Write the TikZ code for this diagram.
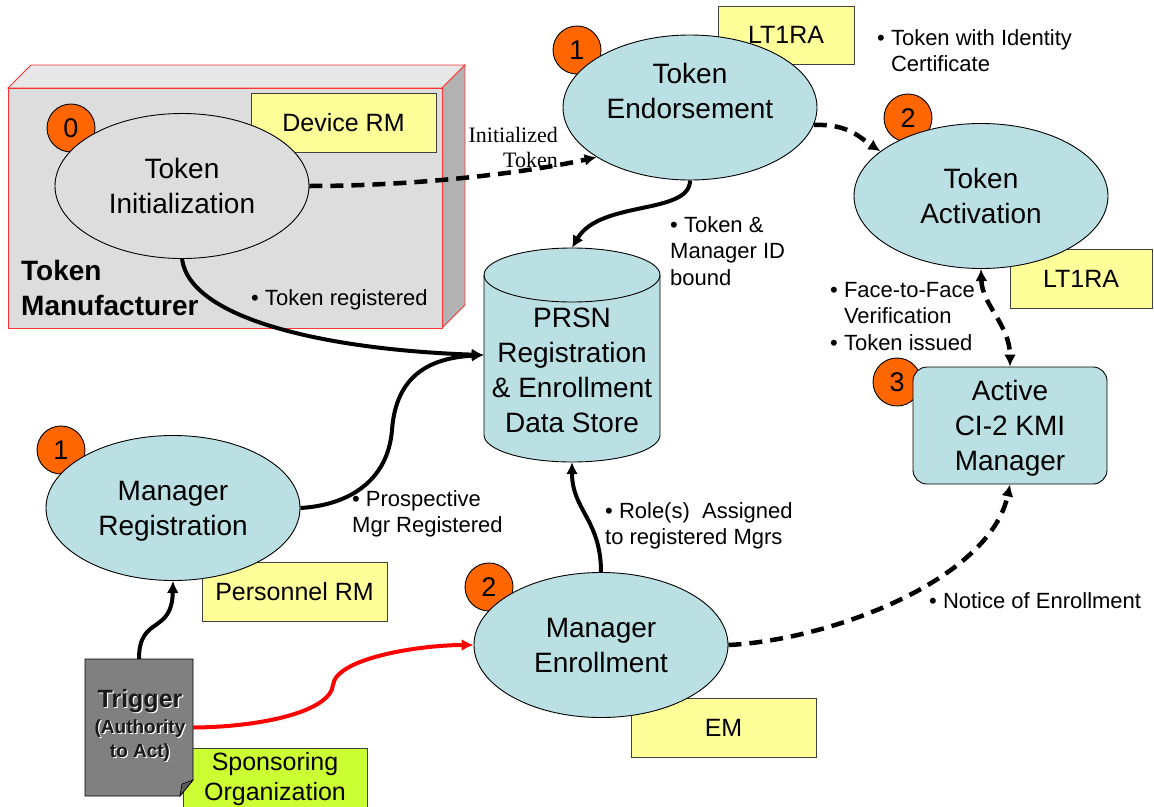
\documentclass[tikz,border=0pt]{standalone}
\usepackage{fontspec}
\setmainfont{Liberation Sans}
\newfontfamily\serifnote{Liberation Serif}
\usetikzlibrary{shapes.geometric,arrows.meta}

\definecolor{procblue}{HTML}{BBE0E3}
\definecolor{rolefill}{HTML}{FFFF99}
\definecolor{badgefill}{HTML}{FF6600}
\definecolor{sponsorfill}{HTML}{CCFF33}
\definecolor{mfrfront}{HTML}{DDDDDD}
\definecolor{mfrtop}{HTML}{E8E8E8}
\definecolor{mfrside}{HTML}{B2B2B2}
\definecolor{mfrline}{HTML}{FF3333}
\definecolor{trigfill}{HTML}{808080}
\definecolor{trigfold}{HTML}{5C5C5C}

\newcommand\procfont{\fontsize{28}{35}\selectfont}
\newcommand\rolefont{\fontsize{25}{30}\selectfont}
\newcommand\notefont{\fontsize{22}{26.5}\selectfont}
\newcommand\badgefont{\fontsize{27}{30}\selectfont}

\tikzset{
  proc/.style={ellipse, draw, line width=0.9pt, fill=procblue,
    minimum width=254pt, minimum height=145pt, inner sep=0pt,
    align=center, font=\procfont, text depth=0pt},
  proctext/.style={inner sep=0pt, align=center, font=\procfont, text depth=0pt},
  role/.style={rectangle, draw=black!75, line width=0.9pt, fill=rolefill,
    inner sep=0pt, align=center, font=\rolefont, text depth=0pt},
  badge/.style={circle, draw, line width=0.9pt, fill=badgefill,
    minimum size=48pt, inner sep=0pt, font=\badgefont, text depth=0pt},
  % multi-line notes are placed by the baseline of their last line
  note/.style={anchor=base west, align=left, inner sep=0pt, font=\notefont},
  flow/.style={line width=4pt, -{Latex[length=12pt,width=12pt]}},
  dflow/.style={line width=4.5pt, dash pattern=on 13pt off 8pt,
    -{Latex[length=12pt,width=12pt]}},
  mfrface/.style={draw=mfrline, line width=0.9pt},
}

\begin{document}
\begin{tikzpicture}[x=1pt, y=-1pt]
\useasboundingbox (0,0) rectangle (1154,806);

% token manufacturer block (3-D box)
\filldraw[mfrface, fill=mfrtop]  (8,88) -- (31,65) -- (465,65) -- (442,88) -- cycle;
\filldraw[mfrface, fill=mfrside] (442,88) -- (465,65) -- (465,305) -- (442,328) -- cycle;
\filldraw[mfrface, fill=mfrfront] (8,88) rectangle (442,328);
\node[anchor=base west, align=left, inner sep=0pt,
      font=\fontsize{28}{35}\selectfont\bfseries] (mfr) at (21,315) {Token\\Manufacturer};

% role boxes
\node[role, minimum width=185pt, minimum height=59pt] (devrm)  at (343.5,122.5) {Device RM};
\node[role, minimum width=136pt, minimum height=58pt] (lt1a)   at (786,35) {LT1RA};
\node[role, minimum width=142pt, minimum height=59pt] (lt1b)   at (1081,278.5) {LT1RA};
\node[role, minimum width=185pt, minimum height=59pt] (persrm) at (294.5,591.5) {Personnel RM};
\node[role, minimum width=185pt, minimum height=59pt] (emrole) at (723.5,727.5) {EM};
\node[role, fill=sponsorfill, minimum width=184pt, minimum height=70pt] (sponsor) at (275,783) {};
\node[proctext, font=\rolefont] (sponsor-text) at (275,776) {Sponsoring\\Organization};

% step badges
\node[badge] (b0)  at (71,128)  {0};
\node[badge] (b1a) at (577,50)  {1};
\node[badge] (b2a) at (908,118) {2};
\node[badge] (b3)  at (897,382) {3};
\node[badge] (b1b) at (61,450)  {1};
\node[badge] (b2b) at (489,587) {2};

% processes
\node[proc, fill=mfrfront] (ti) at (182,186) {Token\\Initialization};
\node[proc] (te) at (690,107.5) {};
\node[proctext] (te-text) at (690,91) {Token\\Endorsement};
\node[proc] (ta) at (981,196) {Token\\Activation};
\node[proc] (mr) at (173,508) {Manager\\Registration};
\node[proc] (me) at (601,645) {Manager\\Enrollment};
\node[rectangle, rounded corners=14pt, draw, line width=0.9pt, fill=procblue,
      minimum width=194pt, minimum height=117pt, align=center, font=\procfont,
      text depth=0pt] (act) at (1010,425.5) {Active\\CI-2 KMI\\Manager};

% data store cylinder
\node[minimum width=176pt, minimum height=214pt, inner sep=0pt] (db) at (572,355) {};
\filldraw[fill=procblue, line width=0.9pt]
  (484,275) -- (484,435) arc[start angle=180, end angle=0, x radius=88, y radius=27]
  -- (660,275) arc[start angle=0, end angle=-180, x radius=88, y radius=27] -- cycle;
\draw[line width=0.9pt] (484,275) arc[start angle=180, end angle=0, x radius=88, y radius=27];
\node[proctext] (db-text) at (572,370) {PRSN\\Registration\\\& Enrollment\\Data Store};

% trigger document
\node[minimum width=108pt, minimum height=137pt, inner sep=0pt] (trig) at (139,727.5) {};
\filldraw[fill=trigfill, line width=0.9pt]
  (85,659) -- (193,659) -- (193,780) -- (180,796) -- (85,796) -- cycle;
\filldraw[fill=trigfold, line width=0.6pt] (193,780) -- (182,784) -- (180,796) -- cycle;
\node[anchor=base, inner sep=0pt, white, font=\fontsize{25}{30}\selectfont\bfseries]
  (trig-title-shade) at (141.2,708.2) {Trigger};
\node[anchor=base, inner sep=0pt, black!90, font=\fontsize{25}{30}\selectfont\bfseries]
  (trig-title) at (140,707) {Trigger};
\node[anchor=base, align=center, inner sep=0pt, white, font=\fontsize{19}{24}\selectfont\bfseries]
  (trig-sub-shade) at (141.2,758.2) {(Authority\\to Act)};
\node[anchor=base, align=center, inner sep=0pt, black!90, font=\fontsize{19}{24}\selectfont\bfseries]
  (trig-sub) at (140,757) {(Authority\\to Act)};

% solid flows into the data store
\draw[flow] (ti.south) .. controls (190,320) and (330,350) .. (db.west);
\coordinate (mrbend) at (392,430);
\draw[flow] (mr.east) .. controls (350,505) and (388,480) .. (mrbend)
  .. controls (396,375) and (430,358) .. (db.west);
\draw[flow] (te.south) .. controls (690,215) and (600,200) .. (db.north);
\draw[flow] (me.north) .. controls (601,520) and (572,510) .. (db.south);
\draw[flow] (trig.north) .. controls (139,615) and (172,635) .. (mr.south);

% sponsoring trigger to enrollment
\coordinate (redbend) at (333,685);
\draw[flow, red] (trig.east) .. controls (260,727) and (330,712) .. (redbend)
  .. controls (336,658) and (420,645) .. (me.west);

% dashed token and notice flows
\draw[dflow] (ti.east) .. controls (420,186) and (530,172) .. (te.208);
\draw[dflow] (te.-8) .. controls (850,124) and (860,138) .. (ta.156);
\draw[dflow, {Latex[length=12pt,width=12pt]}-{Latex[length=12pt,width=12pt]}]
  (ta.south) .. controls (982,305) and (1010,325) .. (act.north);
\draw[dflow] (me.east) .. controls (830,640) and (990,580) .. (act.south);

% annotations
\node[note] (n-reg)    at (251,305) {• Token registered};
\node[note] (n-bound)  at (670,285) {• Token \&\\Manager ID\\bound};
\node[note] (n-cert)   at (877,71.5) {• Token with Identity\\\hphantom{• }Certificate};
\node[note] (n-f2f)    at (830,350) {• Face-to-Face\\\hphantom{• }Verification\\• Token issued};
\node[note] (n-pros)   at (352,532.5) {• Prospective\\Mgr Registered};
\node[note] (n-role)   at (605,544.5) {• Role(s)\ \ Assigned\\to registered Mgrs};
\node[note] (n-notice) at (929,608) {• Notice of Enrollment};
\node[anchor=base east, align=right, inner sep=0pt,
      font=\serifnote\fontsize{22}{25}\selectfont] (n-init) at (558,167) {Initialized\\Token};
\end{tikzpicture}
\end{document}
